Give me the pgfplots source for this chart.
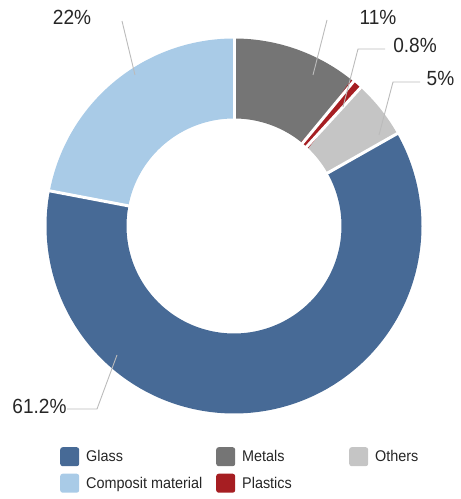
\documentclass[border=0pt]{standalone}
\usepackage{fontspec}
\setmainfont{Liberation Sans}[FakeStretch=0.93]
\usepackage{pgfplots}
\usepackage{pgfplotstable}
\pgfplotsset{compat=1.18}

\definecolor{glass}{HTML}{476A96}
\definecolor{metals}{HTML}{757575}
\definecolor{others}{HTML}{C5C5C5}
\definecolor{composite}{HTML}{A9CBE7}
\definecolor{plastics}{HTML}{A61E22}
\definecolor{leader}{HTML}{BBBBBB}
\definecolor{labtext}{HTML}{262626}

% shares in clockwise order, starting at 12 o'clock
\pgfplotstableread{
name      pct
Metals    11
Plastics  0.8
Others    5
Glass     61.2
Composite 22
}\shares

\newcommand\labfont{\fontsize{20.5}{23}\selectfont}
\newcommand\legfont{\fontsize{15.5}{18}\selectfont}
\newcommand\cx{234}
\newcommand\cy{273}

\pgfplotsset{
  ring/.style={line width=80pt, line cap=butt, samples=150},
  sq/.style={legend image code/.code={\path[fill, draw=none, line width=0pt, rounded corners=2.5pt] (0pt,-9.5pt) rectangle (19pt,9.5pt);}},
  gap/.style={white, line width=3pt, samples=2, domain=100:196, forget plot},
  lead/.style={leader, line width=0.9pt, forget plot},
}

\begin{document}
\begin{tikzpicture}
\pgfplotstablegetelem{0}{pct}\of\shares \pgfmathsetmacro\tA{90-3.6*\pgfplotsretval}
\pgfplotstablegetelem{1}{pct}\of\shares \pgfmathsetmacro\tB{\tA-3.6*\pgfplotsretval}
\pgfplotstablegetelem{2}{pct}\of\shares \pgfmathsetmacro\tC{\tB-3.6*\pgfplotsretval}
\pgfplotstablegetelem{3}{pct}\of\shares \pgfmathsetmacro\tD{\tC-3.6*\pgfplotsretval}
\pgfplotstablegetelem{4}{pct}\of\shares \pgfmathsetmacro\tE{\tD-3.6*\pgfplotsretval}
\useasboundingbox (0,0) rectangle (461pt,499pt);
\begin{axis}[
  at={(0pt,0pt)}, anchor=origin,
  scale only axis, width=461pt, height=499pt,
  xmin=0, xmax=461, ymin=0, ymax=499,
  enlargelimits=false, hide axis, clip=false,
  legend columns=3,
  legend cell align=left,
  legend style={at={(axis cs:60,52)}, anchor=north west, draw=none, fill=none,
    inner sep=0pt, font=\legfont, text=labtext, row sep=7.5pt,
    nodes={inner sep=0pt},
    /tikz/every odd column/.append style={column sep=7pt},
    /tikz/every even column/.append style={column sep=12pt}},
]
\addplot[ring, sq, color=glass, domain=\tD:\tC] ({\cx+147.5*cos(x)},{\cy+147.5*sin(x)});
\addlegendentry{\makebox[118pt][l]{Glass}}
\addplot[ring, sq, color=metals, domain=\tA:90] ({\cx+147.5*cos(x)},{\cy+147.5*sin(x)});
\addlegendentry{\makebox[95pt][l]{Metals}}
\addplot[ring, sq, color=others, domain=\tC:\tB] ({\cx+147.5*cos(x)},{\cy+147.5*sin(x)});
\addlegendentry{Others}
\addplot[ring, sq, color=composite, domain=\tE:\tD] ({\cx+147.5*cos(x)},{\cy+147.5*sin(x)});
\addlegendentry{\makebox[118pt][l]{Composit material}}
\addplot[ring, sq, color=plastics, domain=\tB:\tA] ({\cx+147.5*cos(x)},{\cy+147.5*sin(x)});
\addlegendentry{\makebox[95pt][l]{Plastics}}

% white borders between slices
\addplot[gap] ({\cx+x*cos(90)},{\cy+x*sin(90)});
\addplot[gap] ({\cx+x*cos(\tA)},{\cy+x*sin(\tA)});
\addplot[gap] ({\cx+x*cos(\tB)},{\cy+x*sin(\tB)});
\addplot[gap] ({\cx+x*cos(\tC)},{\cy+x*sin(\tC)});
\addplot[gap] ({\cx+x*cos(\tD)},{\cy+x*sin(\tD)});

% leader lines
\addplot[lead] coordinates {(122,478) (135,424)};
\addplot[lead] coordinates {(327,479) (313,424)};
\addplot[lead] coordinates {(385,450) (358,450) (343,392)};
\addplot[lead] coordinates {(420,417) (393,417) (379,364)};
\addplot[lead] coordinates {(67,90) (97,90) (117,144)};

\node[font=\labfont, text=labtext] at (axis cs:72,482) {22\%};
\node[font=\labfont, text=labtext] at (axis cs:378,481.5) {11\%};
\node[font=\labfont, text=labtext] at (axis cs:415,453.5) {0.8\%};
\node[font=\labfont, text=labtext] at (axis cs:440.5,420.5) {5\%};
\node[font=\labfont, text=labtext] at (axis cs:39.5,92.5) {61.2\%};
\end{axis}
\end{tikzpicture}
\end{document}
